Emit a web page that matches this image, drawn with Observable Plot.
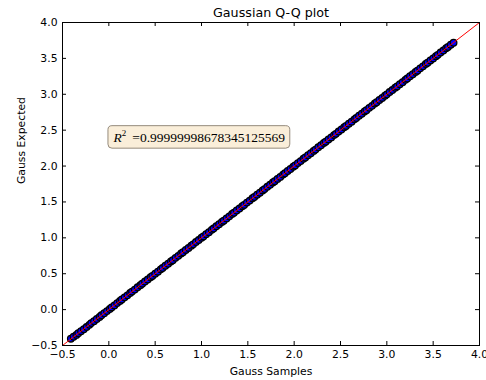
<!DOCTYPE html>
<html>
<head>
<meta charset="utf-8">
<script src="https://cdn.jsdelivr.net/npm/d3@7"></script>
<script src="https://cdn.jsdelivr.net/npm/@observablehq/plot@0.6"></script>
<style>
  html, body { margin: 0; padding: 0; background: #fff; }
  #chart { width: 486px; height: 380px; }
</style>
</head>
<body>
<div id="chart"></div>
<script>
const title = "Gaussian Q-Q plot";
const xLabel = "Gauss Samples";
const yLabel = "Gauss Expected";
const xTicks = [-0.5, 0.0, 0.5, 1.0, 1.5, 2.0, 2.5, 3.0, 3.5, 4.0];
const yTicks = [-0.5, 0.0, 0.5, 1.0, 1.5, 2.0, 2.5, 3.0, 3.5, 4.0];
const refLineX = [-0.5, 4.0];
const refLineY = [-0.5, 4.0];
const r2Value = "0.99999998678345125569";
const annotX = 0.05;
const annotY = 2.4;

const samples = [
-0.41,-0.38,-0.35,-0.33,-0.30,-0.27,-0.24,-0.21,-0.19,-0.16,
-0.13,-0.10,-0.08,-0.05,-0.02,0.01,0.03,0.06,0.09,0.12,
0.14,0.17,0.20,0.23,0.25,0.28,0.31,0.34,0.36,0.39,
0.42,0.45,0.47,0.50,0.53,0.56,0.58,0.61,0.64,0.67,
0.69,0.72,0.75,0.78,0.80,0.83,0.86,0.89,0.91,0.94,
0.97,1.00,1.02,1.05,1.08,1.11,1.13,1.16,1.19,1.22,
1.24,1.27,1.30,1.33,1.35,1.38,1.41,1.44,1.46,1.49,
1.52,1.55,1.57,1.60,1.63,1.66,1.68,1.71,1.74,1.77,
1.79,1.82,1.85,1.88,1.90,1.93,1.96,1.99,2.01,2.04,
2.07,2.10,2.12,2.15,2.18,2.21,2.23,2.26,2.29,2.32,
2.34,2.37,2.40,2.43,2.45,2.48,2.51,2.54,2.56,2.59,
2.62,2.65,2.67,2.70,2.73,2.76,2.78,2.81,2.84,2.87,
2.89,2.92,2.95,2.98,3.00,3.03,3.06,3.09,3.11,3.14,
3.17,3.20,3.22,3.25,3.28,3.31,3.33,3.36,3.39,3.42,
3.44,3.47,3.50,3.53,3.55,3.58,3.61,3.64,3.66,3.69,3.72];

const expected = [
-0.405,-0.378,-0.352,-0.328,-0.301,-0.272,-0.243,-0.212,-0.188,-0.161,
-0.131,-0.102,-0.079,-0.051,-0.021,0.008,0.031,0.059,0.091,0.119,
0.141,0.171,0.199,0.231,0.251,0.279,0.311,0.339,0.361,0.391,
0.419,0.451,0.469,0.501,0.529,0.561,0.579,0.611,0.639,0.671,
0.689,0.721,0.749,0.781,0.799,0.831,0.859,0.891,0.909,0.941,
0.969,1.001,1.019,1.051,1.079,1.111,1.129,1.161,1.189,1.221,
1.239,1.271,1.299,1.331,1.349,1.381,1.409,1.441,1.459,1.491,
1.519,1.551,1.569,1.601,1.629,1.661,1.679,1.711,1.739,1.771,
1.789,1.821,1.849,1.881,1.899,1.931,1.959,1.991,2.009,2.041,
2.069,2.101,2.119,2.151,2.179,2.211,2.229,2.261,2.289,2.321,
2.339,2.371,2.399,2.431,2.449,2.481,2.509,2.541,2.559,2.591,
2.619,2.651,2.669,2.701,2.729,2.761,2.779,2.811,2.839,2.871,
2.889,2.921,2.949,2.981,2.999,3.031,3.059,3.091,3.109,3.141,
3.169,3.201,3.219,3.251,3.279,3.311,3.329,3.361,3.389,3.421,
3.439,3.471,3.499,3.531,3.549,3.581,3.609,3.641,3.659,3.691,3.718];

const points = samples.map((s, i) => ({x: s, y: expected[i]}));
const refLine = refLineX.map((x, i) => ({x, y: refLineY[i]}));
const fmt = d3.format(".1f");

const W = 486, H = 380;
const mL = 62, mR = 7, mT = 22, mB = 35;
const frameW = W - mL - mR, frameH = H - mT - mB;
const tickLen = 4;

const plot = Plot.plot({
  width: W,
  height: H,
  marginLeft: mL,
  marginRight: mR,
  marginTop: mT,
  marginBottom: mB,
  style: {fontFamily: "'DejaVu Sans', sans-serif", fontSize: "10.8px", color: "#000", background: "#fff", overflow: "visible"},
  x: {domain: [-0.5, 4.0], label: null},
  y: {domain: [-0.5, 4.0], label: null},
  marks: [
    Plot.axisX({ticks: xTicks, tickSize: 0, tickPadding: 5, tickFormat: fmt, fontSize: 10.8, fill: "#000"}),
    Plot.axisY({ticks: yTicks, tickSize: 0, tickPadding: 5, tickFormat: fmt, fontSize: 10.8, fill: "#000"}),
    Plot.dot(points, {x: "x", y: "y", r: 3.3, fill: "#0000ff", stroke: "#000", strokeWidth: 1.3}),
    Plot.line(refLine, {x: "x", y: "y", stroke: "#ff0000", strokeWidth: 1}),
    // inward ticks on all four sides
    Plot.tickX(xTicks, {x: d => d, stroke: "#000", insetTop: frameH - tickLen}),
    Plot.tickX(xTicks, {x: d => d, stroke: "#000", insetBottom: frameH - tickLen}),
    Plot.tickY(yTicks, {y: d => d, stroke: "#000", insetRight: frameW - tickLen}),
    Plot.tickY(yTicks, {y: d => d, stroke: "#000", insetLeft: frameW - tickLen}),
    Plot.frame({stroke: "#000", strokeWidth: 1}),
    Plot.text([{x: annotX, y: annotY, t: "R2 =" + r2Value}], {
      x: "x", y: "y", text: "t", textAnchor: "start", lineAnchor: "middle",
      fontFamily: "'Liberation Serif', serif", fontSize: 13.5, fill: "#000",
      className: "r2-annot"
    }),
    Plot.text([title], {frameAnchor: "top", dy: -10, lineAnchor: "middle", fontSize: 12.7, fill: "#000"}),
    Plot.text([xLabel], {frameAnchor: "bottom", dy: 26, lineAnchor: "middle", fontSize: 10.8, fill: "#000"}),
    Plot.text([yLabel], {frameAnchor: "left", dx: -41, rotate: -90, lineAnchor: "middle", fontSize: 10.8, fill: "#000"})
  ]
});

document.getElementById("chart").appendChild(plot);

// Replace annotation text with R (italic) + superscript 2, then draw a rounded box behind it
const annotG = plot.querySelector(".r2-annot");
if (annotG) {
  const t = annotG.querySelector("text");
  if (t) {
    const ns = "http://www.w3.org/2000/svg";
    while (t.firstChild) t.removeChild(t.firstChild);
    const r = document.createElementNS(ns, "tspan");
    r.setAttribute("font-style", "italic");
    r.textContent = "R";
    const sup = document.createElementNS(ns, "tspan");
    sup.setAttribute("font-size", "9");
    sup.setAttribute("dy", "-5.5");
    sup.textContent = "2";
    const rest = document.createElementNS(ns, "tspan");
    rest.setAttribute("dy", "5.5");
    rest.textContent = "\u2009 =" + r2Value;
    t.appendChild(r); t.appendChild(sup); t.appendChild(rest);
    const bb = t.getBBox();
    const box = document.createElementNS(ns, "rect");
    const padX = 4.5, padY = 3.5;
    box.setAttribute("x", bb.x - padX);
    box.setAttribute("y", bb.y - padY + 1);
    box.setAttribute("width", bb.width + 2 * padX);
    box.setAttribute("height", bb.height + 2 * padY - 1);
    box.setAttribute("rx", 4);
    box.setAttribute("ry", 4);
    box.setAttribute("fill", "#faeed9");
    box.setAttribute("stroke", "#958a7c");
    box.setAttribute("stroke-width", "1");
    if (t.getAttribute("transform")) box.setAttribute("transform", t.getAttribute("transform"));
    t.parentNode.insertBefore(box, t);
  }
}
</script>
</body>
</html>
